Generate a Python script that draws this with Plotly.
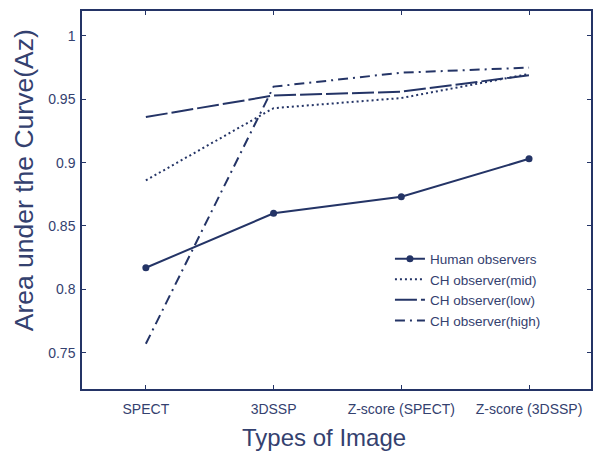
import plotly.graph_objects as go

categories = ["SPECT", "3DSSP", "Z-score (SPECT)", "Z-score (3DSSP)"]
human = [0.817, 0.860, 0.873, 0.903]
ch_mid = [0.886, 0.943, 0.951, 0.970]
ch_low = [0.936, 0.953, 0.956, 0.969]
ch_high = [0.757, 0.960, 0.971, 0.975]

y_ticks = [0.75, 0.8, 0.85, 0.9, 0.95, 1.0]
y_ticktext = ["0.75", "0.8", "0.85", "0.9", "0.95", "1"]

LINE = "#243466"
TEXT = "#34416f"
FONT = "Liberation Sans, Arial, sans-serif"

xs = list(range(len(categories)))

fig = go.Figure()
fig.add_trace(go.Scatter(x=xs, y=human, name="Human observers", mode="lines+markers",
                         line=dict(color=LINE, width=2), marker=dict(color=LINE, size=7)))
fig.add_trace(go.Scatter(x=xs, y=ch_mid, name="CH observer(mid)", mode="lines",
                         line=dict(color=LINE, width=2, dash="2px,3px")))
fig.add_trace(go.Scatter(x=xs, y=ch_low, name="CH observer(low)", mode="lines",
                         line=dict(color=LINE, width=2, dash="22px,4px")))
fig.add_trace(go.Scatter(x=xs, y=ch_high, name="CH observer(high)", mode="lines",
                         line=dict(color=LINE, width=2, dash="10px,5px,2px,5px")))

fig.update_layout(
    width=593, height=453,
    margin=dict(l=82, r=0, t=11, b=64),
    paper_bgcolor="white", plot_bgcolor="white",
    font=dict(family=FONT, color=TEXT, size=14),
    showlegend=True,
    legend=dict(x=0.605, y=0.385, xanchor="left", yanchor="top",
                bgcolor="rgba(0,0,0,0)", font=dict(size=13.5, color=TEXT),
                tracegroupgap=0),
    xaxis=dict(
        range=[-0.5, 3.485], tickmode="array", tickvals=xs, ticktext=categories,
        showline=True, linecolor=LINE, linewidth=1.5, mirror="ticks",
        ticks="inside", ticklen=4, tickcolor=LINE, showgrid=False, zeroline=False,
        tickfont=dict(size=14, color=TEXT), ticklabelstandoff=6,
    ),
    yaxis=dict(
        range=[0.7213, 1.0197], tickmode="array", tickvals=y_ticks, ticktext=y_ticktext,
        showline=True, linecolor=LINE, linewidth=1.5, mirror="ticks",
        ticks="inside", ticklen=4, tickcolor=LINE, showgrid=False, zeroline=False,
        tickfont=dict(size=14, color=TEXT), ticklabelstandoff=2,
    ),
    annotations=[
        dict(text="Types of Image", xref="paper", yref="paper",
             x=(325 - 82) / 511, y=-(437 - 389) / 378, xanchor="center", yanchor="middle",
             showarrow=False, font=dict(size=24, color=TEXT)),
        dict(text="Area under the Curve(Az)", xref="paper", yref="paper",
             x=-(82 - 24) / 511, y=(389 - 180) / 378, xanchor="center", yanchor="middle",
             textangle=-90, showarrow=False, font=dict(size=26.5, color=TEXT)),
    ],
)

fig.write_html("out.html")
